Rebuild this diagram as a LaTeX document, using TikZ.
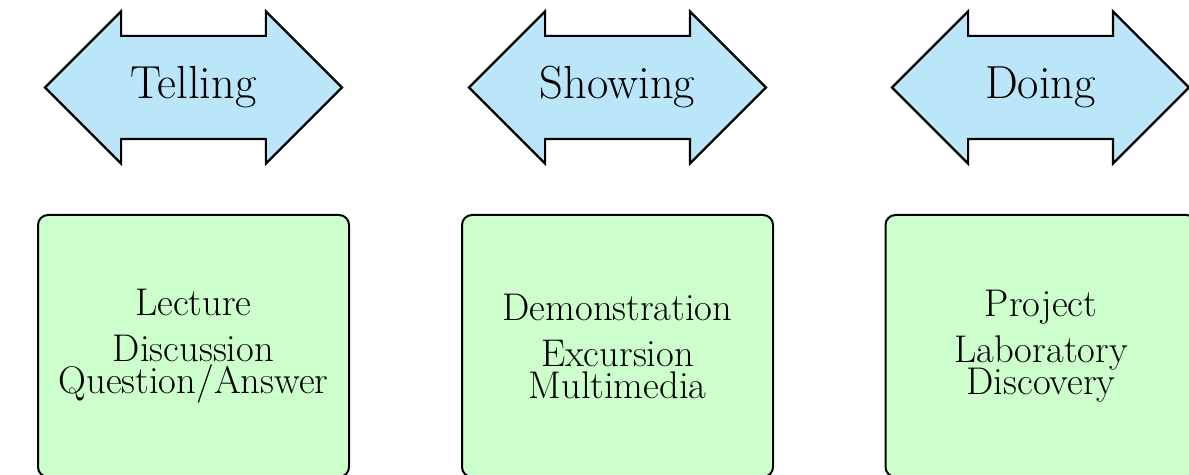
\documentclass[tikz,border=0pt]{standalone}
\usepackage{tikz}
\usetikzlibrary{shapes.arrows}
\definecolor{arrowblue}{RGB}{187,229,248}
\definecolor{boxgreen}{RGB}{204,255,204}
\tikzset{modearrow/.style = {double arrow, draw, fill = arrowblue, line width = 1.1pt,
    double arrow tip angle = 90, double arrow head extend = 12.25pt,
    minimum height = 148.5pt, minimum width = 75pt,
    text height = 16.75pt, text depth = 5.25pt, inner xsep = 0pt, inner ysep = 14.25pt,
    font = \fontsize{23.2}{28}\selectfont}}
\tikzset{methodbox/.style = {draw, fill = boxgreen, rounded corners = 5pt, line width = 1pt,
    minimum width = 155.5pt, minimum height = 131pt, align = center,
    font = \fontsize{19.3}{23}\selectfont}}

\begin{document}
\begin{tikzpicture}[x = 0.5pt, y = -0.5pt]
\useasboundingbox (0,0) rectangle (1189,475);
\node [modearrow] (telling) at (193.5,87.5) {Telling};
\node [modearrow] (showing) at (617.5,87.5) {Showing};
\node [modearrow] (doing) at (1040.5,87.5) {Doing};
\node [methodbox] (tellbox) at (193.5,346) {Lecture\\Discussion\\[-7pt]Question/Answer};
\node [methodbox] (showbox) at (617.5,346) {Demonstration\\Excursion\\[-7pt]Multimedia};
\node [methodbox] (dobox) at (1041,346) {Project\\Laboratory\\[-7pt]Discovery};
\end{tikzpicture}
\end{document}
